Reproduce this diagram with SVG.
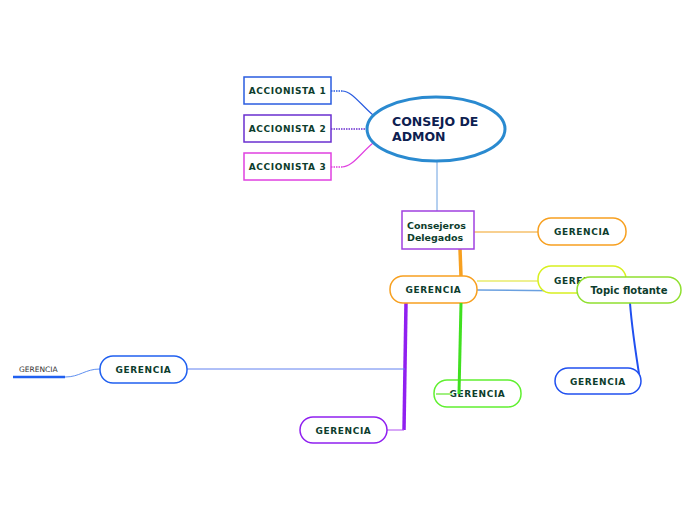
<svg xmlns="http://www.w3.org/2000/svg" width="696" height="520" viewBox="0 0 696 520">
<style>
.t{font-family:"DejaVu Sans",Verdana,sans-serif;font-weight:bold;fill:#0d3d2d;}
.g{font-size:9px;letter-spacing:0.6px;text-anchor:middle;}
.box{fill:#fff;stroke-width:1.5;}
.pill{fill:#fff;stroke-width:1.5;}
.c{fill:none;}
</style>
<rect width="696" height="520" fill="#fff"/>
<g id="connectors">
<path class="c" d="M331 91 H342" stroke="#2a5ce0" stroke-width="1.5" stroke-dasharray="1.5 1"/>
<path class="c" d="M342 91 C352 91 360 104 373 115" stroke="#2a5ce0" stroke-width="1.2"/>
<path class="c" d="M331 129 H367" stroke="#6a2fd0" stroke-width="1.5" stroke-dasharray="1.5 1"/>
<path class="c" d="M331 167 H342" stroke="#e040e0" stroke-width="1.5" stroke-dasharray="1.5 1"/>
<path class="c" d="M342 167 C352 167 360 154 373 143" stroke="#e040e0" stroke-width="1.2"/>
<path class="c" d="M437 161 V211" stroke="#6aa0e0" stroke-width="1"/>
<path class="c" d="M474 232 H538" stroke="#f8d090" stroke-width="2"/>
<path class="c" d="M460 249 L461 276" stroke="#f7a020" stroke-width="3.5"/>
<path class="c" d="M477 281 H538" stroke="#eef090" stroke-width="2"/>
<path class="c" d="M477 290 L577 291" stroke="#6aa0e0" stroke-width="1.5"/>
<path class="c" d="M630 303 C632 330 636 355 640 380" stroke="#2050f0" stroke-width="2"/>
<path class="c" d="M406 303 L404 430" stroke="#9020f0" stroke-width="3.5"/>
<path class="c" d="M404 430 H387" stroke="#b050f0" stroke-width="1"/>
<path class="c" d="M405 369 H187" stroke="#6080f0" stroke-width="1"/>
<path class="c" d="M100 369 C85 369 80 377 65 377" stroke="#6090f0" stroke-width="1"/>
<path class="c" d="M13 377 H65" stroke="#2060f0" stroke-width="2.5"/>
</g>
<g id="accionista1"><rect class="box" x="244" y="77" width="87" height="27" stroke="#2a5ce0"/><text class="t g" x="287.5" y="94">ACCIONISTA 1</text></g>
<g id="accionista2"><rect class="box" x="244" y="115" width="87" height="27" stroke="#6a2fd0"/><text class="t g" x="287.5" y="132">ACCIONISTA 2</text></g>
<g id="accionista3"><rect class="box" x="244" y="153" width="87" height="27" stroke="#e040e0"/><text class="t g" x="287.5" y="170">ACCIONISTA 3</text></g>
<g id="consejo"><ellipse cx="436" cy="129" rx="69" ry="32" fill="#fff" stroke="#2a8ad0" stroke-width="3"/><text class="t" x="392" y="126" font-size="12.5" style="fill:#0d2050">CONSEJO DE</text><text class="t" x="392" y="141" font-size="12.5" style="fill:#0d2050">ADMON</text></g>
<g id="consejeros"><rect class="box" x="402" y="211" width="72" height="38" stroke="#a040e0"/><text class="t" x="407" y="229" font-size="9.5">Consejeros</text><text class="t" x="407" y="241" font-size="9.5">Delegados</text></g>
<g id="gerencia-orange-right"><rect class="pill" x="538" y="218" width="88" height="27" rx="13" stroke="#f7a020"/><text class="t g" x="582" y="235">GERENCIA</text></g>
<g id="gerencia-lime"><rect class="pill" x="538" y="266" width="88" height="27" rx="13" stroke="#d8f020"/><text class="t g" x="582" y="284">GERENCIA</text></g>
<g id="gerencia-mid"><rect class="pill" x="390" y="276" width="87" height="27" rx="13" stroke="#f7a020"/><text class="t g" x="433.5" y="293">GERENCIA</text></g>
<g id="topic"><rect class="pill" x="577" y="277" width="104" height="26" rx="13" stroke="#90e030"/><text class="t" x="629" y="294" font-size="10" text-anchor="middle">Topic flotante</text></g>
<g id="gerencia-blue-right"><rect class="pill" x="555" y="368" width="86" height="26" rx="13" stroke="#2050f0"/><text class="t g" x="598" y="385">GERENCIA</text></g>
<g id="gerencia-green"><rect class="pill" x="434" y="380" width="87" height="27" rx="13" stroke="#60f030"/><text class="t g" x="477.5" y="397">GERENCIA</text></g>
<g id="gerencia-purple"><rect class="pill" x="300" y="417" width="87" height="26" rx="13" stroke="#9020f0"/><text class="t g" x="343.5" y="434">GERENCIA</text></g>
<g id="gerencia-blue-left"><rect class="pill" x="100" y="356" width="87" height="27" rx="13" stroke="#2060f0"/><text class="t g" x="143.5" y="373">GERENCIA</text></g>
<g id="gerencia-sub"><text x="19" y="372" font-family="DejaVu Sans,Verdana,sans-serif" font-size="7.5" fill="#333">GERENCIA</text></g>
<g id="connectors-over">
<path class="c" d="M461 303 L459 394" stroke="#40e020" stroke-width="3"/>
<path class="c" d="M436 394 H452" stroke="#a0f080" stroke-width="2"/>
</g>
</svg>
